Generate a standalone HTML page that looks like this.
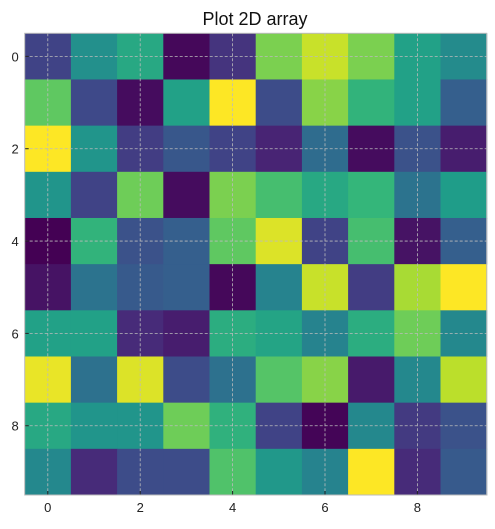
<!DOCTYPE html>
<html><head><meta charset="utf-8"><style>
body{margin:0;background:#fff;font-family:"Liberation Sans","DejaVu Sans",sans-serif}
</style></head><body>
<svg id="chart" width="495" height="524" xmlns="http://www.w3.org/2000/svg">
<text x="255" y="25" text-anchor="middle" font-size="18" fill="#111">Plot 2D array</text>
<g id="cells"></g><g id="grid"></g><g id="axes"></g>
</svg>
<script>
const rowsData = [
[0.2,0.5,0.6,0.02,0.15,0.8,0.92,0.8,0.57,0.48],
[0.75,0.22,0.03,0.57,1.0,0.23,0.82,0.65,0.57,0.3],
[1.0,0.52,0.18,0.27,0.2,0.1,0.35,0.03,0.25,0.08],
[0.52,0.2,0.78,0.03,0.8,0.7,0.6,0.66,0.38,0.55],
[0.0,0.65,0.25,0.3,0.75,0.95,0.2,0.7,0.05,0.3],
[0.05,0.38,0.28,0.3,0.02,0.45,0.92,0.18,0.87,1.0],
[0.57,0.57,0.12,0.08,0.62,0.58,0.45,0.62,0.78,0.47],
[0.97,0.37,0.95,0.23,0.37,0.73,0.82,0.07,0.47,0.9],
[0.6,0.52,0.52,0.78,0.64,0.2,0.01,0.47,0.17,0.25],
[0.47,0.12,0.23,0.23,0.72,0.53,0.45,1.0,0.12,0.28]
];
const xTicks = [0,2,4,6,8];
const yTicks = [0,2,4,6,8];
const vir=[[68,1,84],[72,40,120],[62,74,137],[49,104,142],[38,130,142],[31,158,137],[53,183,121],[109,205,89],[180,222,44],[253,231,37]];
function cmap(v){v=Math.max(0,Math.min(1,v))*9;const i=Math.min(8,Math.floor(v)),t=v-i;const a=vir[i],b=vir[i+1];
return `rgb(${a.map((c,k)=>Math.round(c+(b[k]-c)*t)).join(',')})`;}
const L=24.7,T=33.3,W=462,H=461.7,n=10,cw=W/n,ch=H/n;
const sx=i=>L+(i+0.5)*cw, sy=j=>T+(j+0.5)*ch;
const NS='http://www.w3.org/2000/svg';
function mk(t,p,at){const e=document.createElementNS(NS,t);for(const k in at)e.setAttribute(k,at[k]);p.appendChild(e);return e;}
const cells=document.getElementById('cells'),grid=document.getElementById('grid'),axes=document.getElementById('axes');
rowsData.forEach((row,j)=>row.forEach((v,i)=>{
 const r=mk('rect',cells,{x:sx(i)-cw/2,y:sy(j)-ch/2,width:cw+0.5,height:ch+0.5,fill:cmap(v)});
 
 
}));
xTicks.forEach(t=>{
 const g=mk('line',grid,{x1:sx(t),x2:sx(t),y1:T,y2:T+H,stroke:'#bbb','stroke-width':0.8,'stroke-dasharray':'3,2'});
 
 
 mk('line',axes,{x1:sx(t),x2:sx(t),y1:T+H-4,y2:T+H,stroke:'#222','stroke-width':1});
 const tx=mk('text',axes,{x:sx(t),y:T+H+17,'text-anchor':'middle','font-size':13,fill:'#222'});tx.textContent=t;
 
 
});
yTicks.forEach(t=>{
 const g=mk('line',grid,{y1:sy(t),y2:sy(t),x1:L,x2:L+W,stroke:'#bbb','stroke-width':0.8,'stroke-dasharray':'3,2'});
 
 
 mk('line',axes,{y1:sy(t),y2:sy(t),x1:L,x2:L+4,stroke:'#222','stroke-width':1});
 const tx=mk('text',axes,{x:L-6,y:sy(t)+5,'text-anchor':'end','font-size':13,fill:'#222'});tx.textContent=t;
 
 
});
const f=mk('rect',axes,{x:L,y:T,width:W,height:H,fill:'none',stroke:'#bbb','stroke-width':1});


</script>
</body></html>
